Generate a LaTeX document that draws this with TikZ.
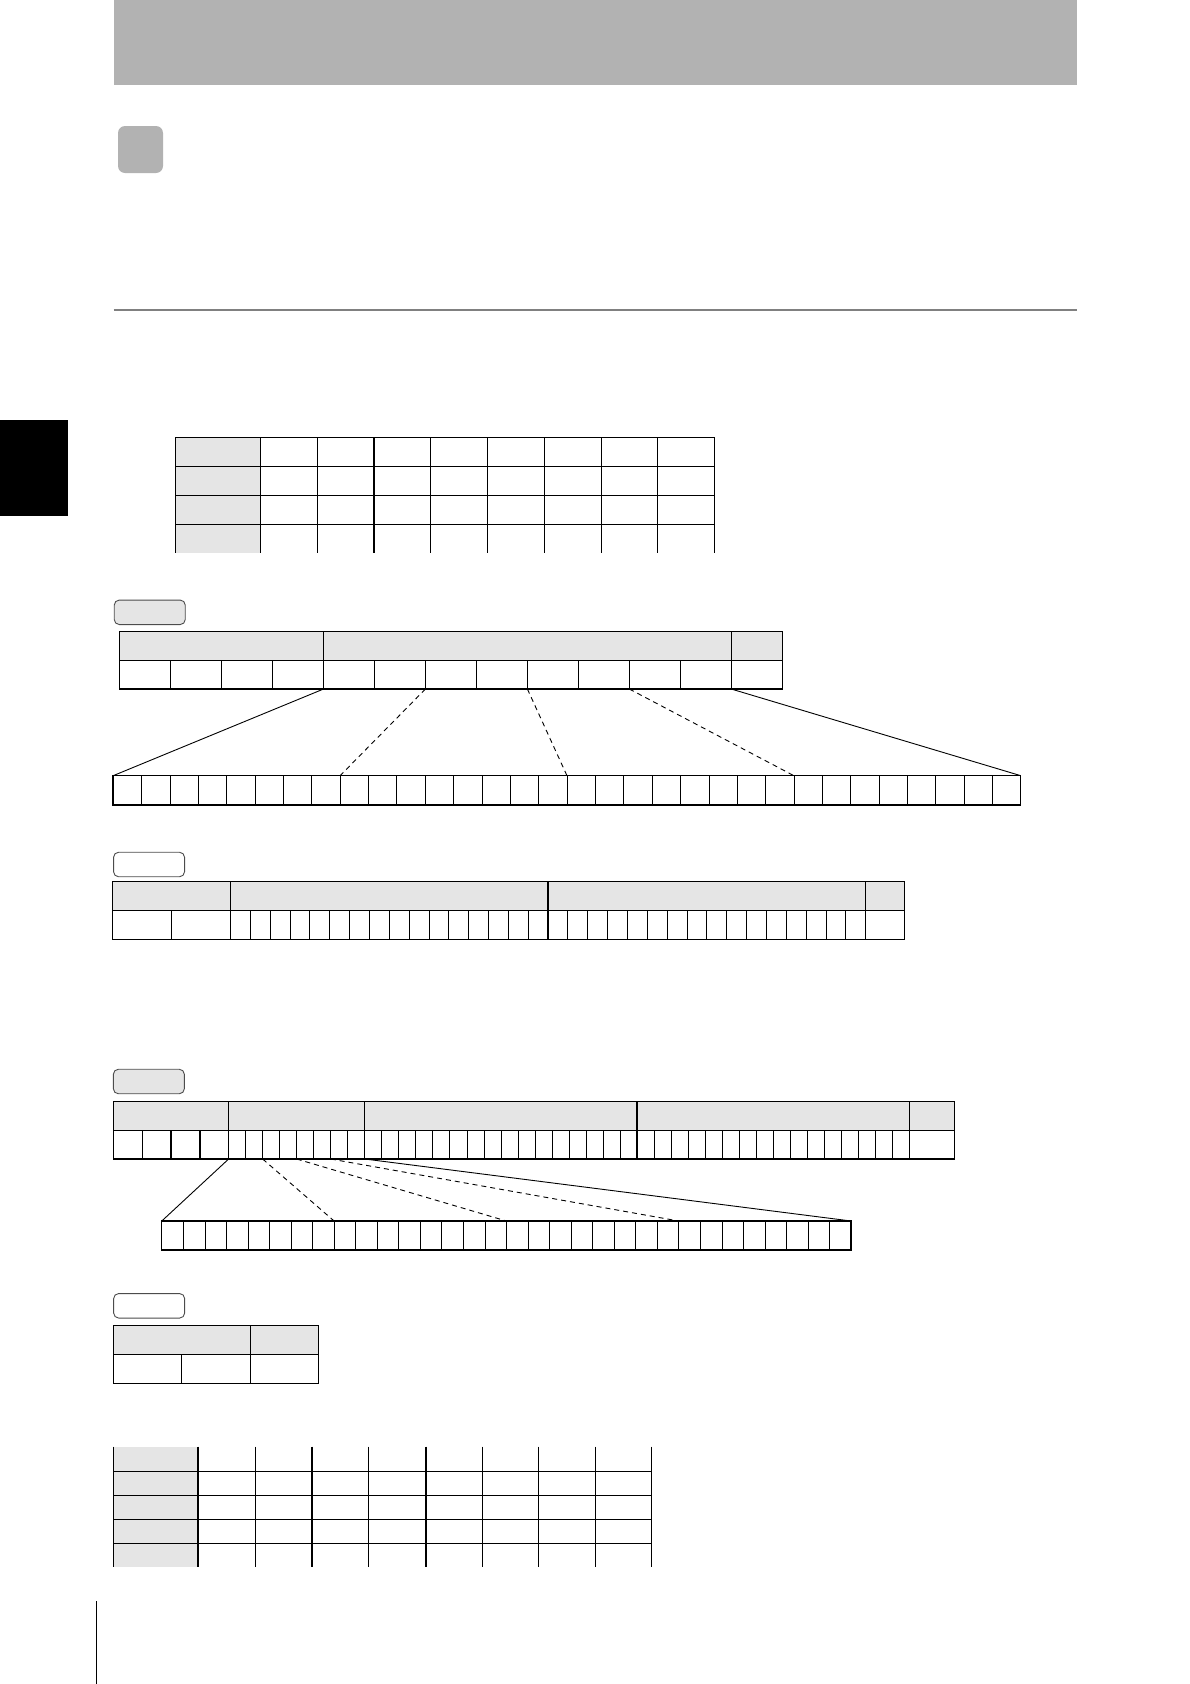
\documentclass[tikz,border=0pt]{standalone}
\usetikzlibrary{positioning}
\tikzset{
  tag/.style={draw=black!70,line width=0.9pt,rounded corners=5pt,minimum width=71pt,minimum height=24.5pt,inner sep=0pt},
  grid/.style={line width=1.3pt},
  thin grid/.style={line width=0.7pt},
  fan/.style={line width=0.9pt},
  fan dashed/.style={fan,dash pattern=on 5pt off 4pt},
}
\begin{document}
\begin{tikzpicture}[x=1pt,y=-1pt]
	\useasboundingbox (0,0) rectangle (1190,1684);
	\fill[black!30] (113.5,0) rectangle (1077,84.5);
	\fill[black!30,rounded corners=7pt] (118,126) rectangle (163,173);
	\draw[black!50,line width=1.8pt] (113.5,310) -- (1077,310);
	\fill[black] (0,420) rectangle (68,516);
	\draw[line width=1.5pt] (96.5,1601) -- (96.5,1684);
	\begin{scope}[xshift=0.6pt,xscale=0.995]

	% first table, open at the bottom
	\fill[black!10] (175.8,437.3) rectangle (261.3,552.7);
	\foreach \x in {175.8,261.3,318.3,375.4,432.1,489.6,546.7,604.2,660.4,717.5}
		\draw[grid] (\x,437.3) -- (\x,552.7);
	\foreach \y in {437.3,466.3,495.3,524.3}
		\draw[grid] (175.8,\y) -- (717.5,\y);

	% frame A and its 32 bits
	\node[tag,fill=black!10] (tagA) at (149.9,612.3) {};
	\fill[black!10] (119.7,631.3) rectangle (785.6,660.3);
	\draw[grid] (119.7,631.3) rectangle (785.6,689);
	\draw[grid] (119.7,660.3) -- (785.6,660.3);
	\foreach \i in {1,...,12}
		\draw[grid] ({119.7+\i*51.22},660.3) -- ++(0,28.7);
	\draw[grid] (324.6,631.3) -- (324.6,660.3);
	\draw[grid] (734.3,631.3) -- (734.3,660.3);
	\foreach \i in {4,6,8,10,12}
		\coordinate (a\i) at ({119.7+\i*51.22},689);
	\foreach \i in {1,...,31}
		\draw[thin grid] ({113.1+\i*28.51},775.7) -- ++(0,29.3);
	\draw[grid] (113.1,775.7) rectangle (1025.3,805);
	\foreach \i in {0,8,16,24,32}
		\coordinate (bitA\i) at ({113.1+\i*28.51},775.7);
	\draw[fan] (a4) -- (bitA0);
	\draw[fan dashed] (a6) -- (bitA8);
	\draw[fan dashed] (a8) -- (bitA16);
	\draw[fan dashed] (a10) -- (bitA24);
	\draw[fan] (a12) -- (bitA32);

	% frame B
	\node[tag,fill=white] (tagB) at (149.2,864.5) {};
	\fill[black!10] (112.8,881.7) rectangle (908.6,910.7);
	\draw[grid] (112.8,881.7) rectangle (908.6,939.7);
	\draw[grid] (112.8,910.7) -- (908.6,910.7);
	\foreach \x in {230.9,550.1,869.3}
		\draw[grid] (\x,881.7) -- (\x,939.7);
	\draw[grid] (171.8,910.7) -- (171.8,939.7);
	\foreach \i in {1,...,15,17,18,...,31}
		\draw[thin grid] ({230.9+\i*19.95},910.7) -- ++(0,29);

	% frame C and its 32 bits
	\node[tag,fill=black!10] (tagC) at (149,1081.5) {};
	\fill[black!10] (113.5,1101.7) rectangle (958.5,1130.3);
	\draw[grid] (113.5,1101.7) rectangle (958.5,1159);
	\draw[grid] (113.5,1130.3) -- (958.5,1130.3);
	\foreach \x in {229.2,366,639.6,913.2}
		\draw[grid] (\x,1101.7) -- (\x,1159);
	\foreach \i in {1,2,3}
		\draw[grid] ({113.5+\i*28.93},1130.3) -- ++(0,28.7);
	\foreach \i in {1,...,7,9,10,...,23,25,26,...,39}
		\draw[thin grid] ({229.2+\i*17.1},1130.3) -- ++(0,28.7);
	\foreach \i in {0,2,4,6,8}
		\coordinate (c\i) at ({229.2+\i*17.1},1159);
	\foreach \i in {1,...,31}
		\draw[thin grid] ({162+\i*21.65},1221) -- ++(0,29);
	\draw[grid] (162,1221) rectangle (854.7,1250);
	\foreach \i in {0,8,16,24,32}
		\coordinate (bitC\i) at ({162+\i*21.65},1221);
	\draw[fan] (c0) -- (bitC0);
	\draw[fan dashed] (c2) -- (bitC8);
	\draw[fan dashed] (c4) -- (bitC16);
	\draw[fan dashed] (c6) -- (bitC24);
	\draw[fan] (c8) -- (bitC32);

	% frame D
	\node[tag,fill=white] (tagD) at (149.3,1305.8) {};
	\fill[black!10] (113.3,1325.3) rectangle (319.3,1354.3);
	\draw[grid] (113.3,1325.3) rectangle (319.3,1383.3);
	\draw[grid] (113.3,1354.3) -- (319.3,1354.3);
	\draw[grid] (251.1,1325.3) -- (251.1,1383.3);
	\draw[grid] (181.9,1354.3) -- (181.9,1383.3);

	% last table, open at top and bottom
	\fill[black!10] (113.3,1446.7) rectangle (198.4,1566.7);
	\foreach \x in {113.3,198.4,256.5,312.9,369.6,427.4,484.5,540.5,597.9,654.3}
		\draw[grid] (\x,1446.7) -- (\x,1566.7);
	\foreach \y in {1471.3,1495.3,1519.3,1543.3}
		\draw[grid] (113.3,\y) -- (654.3,\y);
	\end{scope}
\end{tikzpicture}
\end{document}
